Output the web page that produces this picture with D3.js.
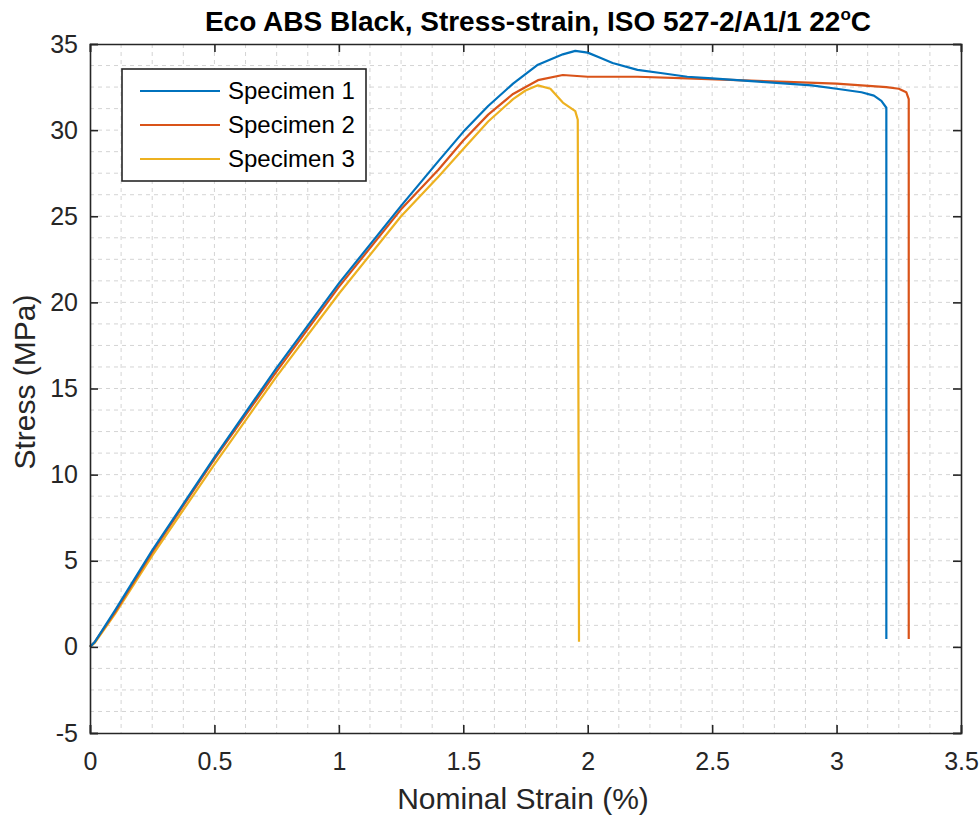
<!DOCTYPE html>
<html>
<head>
<meta charset="utf-8">
<script src="https://cdn.jsdelivr.net/npm/d3@7"></script>
<style>
  body { margin: 0; background: #fff; }
  svg { font-family: "Liberation Sans", Arial, Helvetica, sans-serif; }
</style>
</head>
<body>
<div id="chart"></div>
<script>
// values
const seriesNames = ['Specimen 1', 'Specimen 2', 'Specimen 3'];
const seriesColors = ['#0072BD', '#D95319', '#EDB120'];

const strain1 = [0, 0.02, 0.1, 0.25, 0.5, 0.75, 1.0, 1.25, 1.4, 1.5, 1.6, 1.7, 1.8, 1.9, 1.95, 2.0, 2.05, 2.1, 2.2, 2.3, 2.4, 2.5, 2.6, 2.7, 2.8, 2.9, 3.0, 3.1, 3.15, 3.18, 3.2, 3.2];
const stress1 = [0, 0.3, 2.1, 5.6, 11.0, 16.2, 21.1, 25.6, 28.2, 29.9, 31.4, 32.7, 33.8, 34.4, 34.6, 34.5, 34.2, 33.9, 33.5, 33.3, 33.1, 33.0, 32.9, 32.8, 32.7, 32.6, 32.4, 32.2, 32.0, 31.7, 31.3, 0.45];

const strain2 = [0, 0.02, 0.1, 0.25, 0.5, 0.75, 1.0, 1.25, 1.4, 1.5, 1.6, 1.7, 1.8, 1.9, 2.0, 2.2, 2.4, 2.6, 2.8, 3.0, 3.1, 3.2, 3.25, 3.28, 3.29, 3.29];
const stress2 = [0, 0.3, 2.0, 5.5, 10.9, 16.0, 20.9, 25.4, 27.7, 29.4, 30.9, 32.1, 32.9, 33.2, 33.1, 33.1, 33.0, 32.9, 32.8, 32.7, 32.6, 32.5, 32.4, 32.2, 31.8, 0.45];

const strain3 = [0, 0.02, 0.1, 0.25, 0.5, 0.75, 1.0, 1.25, 1.4, 1.5, 1.6, 1.7, 1.75, 1.8, 1.85, 1.9, 1.95, 1.96, 1.965];
const stress3 = [0, 0.25, 1.9, 5.3, 10.6, 15.7, 20.5, 25.0, 27.3, 28.9, 30.5, 31.8, 32.3, 32.6, 32.4, 31.6, 31.1, 30.6, 0.3];

const xTicks = [0, 0.5, 1, 1.5, 2, 2.5, 3, 3.5];
const yTicks = [-5, 0, 5, 10, 15, 20, 25, 30, 35];
const xMinor = d3.range(0, 3.5001, 0.125);
const yMinor = d3.range(-5, 35.001, 1.25);

const titleText = 'Eco ABS Black, Stress-strain, ISO 527-2/A1/1 22';
const xLabel = 'Nominal Strain (%)';
const yLabel = 'Stress (MPa)';

const W = 980, H = 820;
const margin = {left: 90, right: 19, top: 44, bottom: 87};
const iw = W - margin.left - margin.right;
const ih = H - margin.top - margin.bottom;

const svg = d3.select('#chart').append('svg')
  .attr('width', W).attr('height', H);

const g = svg.append('g')
  .attr('transform', 'translate(' + margin.left + ',' + margin.top + ')');

const x = d3.scaleLinear().domain([0, 3.5]).range([0, iw]);
const y = d3.scaleLinear().domain([-5, 35]).range([ih, 0]);

// grid (minor + major, dashed)
const grid = g.append('g').attr('class', 'grid');
grid.selectAll('.vx').data(xMinor.filter(v => v > 0 && v < 3.5)).enter().append('line')
  .attr('x1', d => x(d)).attr('x2', d => x(d)).attr('y1', 0).attr('y2', ih)
  .attr('stroke', '#d4d4d4').attr('stroke-width', 1).attr('stroke-dasharray', '4,4');
grid.selectAll('.hy').data(yMinor.filter(v => v > -5 && v < 35)).enter().append('line')
  .attr('y1', d => y(d)).attr('y2', d => y(d)).attr('x1', 0).attr('x2', iw)
  .attr('stroke', '#d4d4d4').attr('stroke-width', 1).attr('stroke-dasharray', '4,4');

// curves
const line = d3.line().x(d => x(d[0])).y(d => y(d[1]));
const series = [
  d3.zip(strain1, stress1),
  d3.zip(strain2, stress2),
  d3.zip(strain3, stress3)
];
// draw in reverse so specimen 1 sits on top
[2, 1, 0].forEach(i => {
  g.append('path')
    .datum(series[i])
    .attr('d', line)
    .attr('fill', 'none')
    .attr('stroke', seriesColors[i])
    .attr('stroke-width', 2.2)
    .attr('stroke-linejoin', 'round');
});

// axes
const axisColor = '#262626';
const fmt = d => String(d);
const xAxis = g.append('g').attr('transform', 'translate(0,' + ih + ')')
  .call(d3.axisBottom(x).tickValues(xTicks).tickSize(-8).tickPadding(19).tickFormat(fmt));
const xAxisTop = g.append('g')
  .call(d3.axisTop(x).tickValues(xTicks).tickSize(-8).tickFormat(''));
const yAxis = g.append('g')
  .call(d3.axisLeft(y).tickValues(yTicks).tickSize(-8).tickPadding(12).tickFormat(fmt));
const yAxisRight = g.append('g').attr('transform', 'translate(' + iw + ',0)')
  .call(d3.axisRight(y).tickValues(yTicks).tickSize(-8).tickFormat(''));

[xAxis, xAxisTop, yAxis, yAxisRight].forEach(a => {
  a.select('.domain').attr('stroke', axisColor).attr('stroke-width', 1.6);
  a.selectAll('.tick line').attr('stroke', axisColor).attr('stroke-width', 1.6);
  a.selectAll('.tick text').attr('fill', axisColor).attr('font-size', 25);
});

// title
const title = svg.append('text')
  .attr('x', 538).attr('y', 31)
  .attr('text-anchor', 'middle')
  .attr('font-size', 28).attr('font-weight', 'bold').attr('fill', '#000')
  .text(titleText);
title.append('tspan').attr('font-size', 17).attr('dy', -11).text('o');
title.append('tspan').attr('dy', 11).text('C');

// axis labels
svg.append('text')
  .attr('x', 523).attr('y', 809)
  .attr('text-anchor', 'middle').attr('font-size', 30).attr('fill', axisColor)
  .text(xLabel);
svg.append('text')
  .attr('transform', 'translate(35,382) rotate(-90)')
  .attr('text-anchor', 'middle').attr('font-size', 30).attr('fill', axisColor)
  .text(yLabel);

// legend
const lg = svg.append('g').attr('transform', 'translate(122,69)');
lg.append('rect').attr('width', 244).attr('height', 112)
  .attr('fill', '#fff').attr('stroke', axisColor).attr('stroke-width', 1.6);
seriesNames.forEach((name, i) => {
  const yy = 22 + i * 34;
  lg.append('line').attr('x1', 18).attr('x2', 98).attr('y1', yy).attr('y2', yy)
    .attr('stroke', seriesColors[i]).attr('stroke-width', 2);
  lg.append('text').attr('x', 106).attr('y', yy + 8)
    .attr('font-size', 24).attr('fill', '#000').text(name);
});
</script>
</body>
</html>
